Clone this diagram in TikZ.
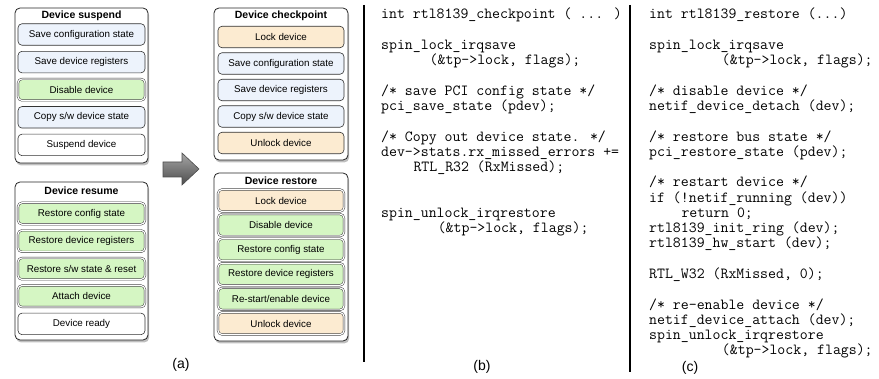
\documentclass[tikz,border=0pt]{standalone}
\usepackage{fontspec}
\setsansfont{Liberation Sans}
\usetikzlibrary{positioning, shadows}

\definecolor{stateblue}{HTML}{EDF3FC}
\definecolor{devgreen}{HTML}{D5F6C3}
\definecolor{lockpeach}{HTML}{FCEBD1}

\newcommand{\ind}[1]{\hspace*{\dimexpr 0.525em*#1\relax}}

\begin{document}
\begin{tikzpicture}[x=1pt, y=-1pt,
    every node/.style={inner sep=0pt, font=\sffamily},
    phase/.style={draw=black!85, line width=0.8pt, rounded corners=5pt, fill=white,
        drop shadow={shadow xshift=1.2pt, shadow yshift=-2.5pt, opacity=0.5}},
    phasetitle/.style={font=\sffamily\bfseries\fontsize{10.5}{12}\selectfont},
    item/.style={draw=black!80, line width=0.6pt, rounded corners=4pt, fill=white,
        minimum width=127pt, minimum height=21.5pt,
        font=\sffamily\fontsize{9.8}{11}\selectfont},
    dbl/.style={item, line width=0.45pt, double=white, double distance=1.2pt},
    code/.style={anchor=north west, align=left,
        font=\ttfamily\fontsize{15.4}{15.27}\selectfont},
    caption/.style={font=\sffamily\fontsize{14}{16}\selectfont},
    sepline/.style={line width=1.2pt},
    bigarrow/.style={draw=black!70, line width=0.6pt, top color=black!35, bottom color=black!70}]

    \useasboundingbox (0,0) rectangle (879,379);

    % (a) device suspend / resume
    \node[phase, minimum width=133pt, minimum height=155pt] (suspend) at (81.5,85.5) {};
    \node[phasetitle] (suspendT) at (81.5,16) {Device suspend};
    \node[item, fill=stateblue] (s1) at (81.5,34.5) {Save configuration state};
    \begin{scope}[node distance=27.6pt]
    \node[item, fill=stateblue] (s2) [below of = s1] {Save device registers};
    \node[dbl, fill=devgreen] (s3) [below of = s2] {Disable device};
    \node[item, fill=stateblue] (s4) [below of = s3] {Copy s/w device state};
    \node[item] (s5) [below of = s4] {Suspend device};
    \end{scope}

    \node[phase, minimum width=133pt, minimum height=158pt] (resume) at (81.5,261) {};
    \node[phasetitle] (resumeT) at (81.5,191) {Device resume};
    \node[dbl, fill=devgreen] (r1) at (81.5,213.5) {Restore config state};
    \begin{scope}[node distance=27.6pt]
    \node[dbl, fill=devgreen] (r2) [below of = r1] {Restore device registers};
    \node[dbl, fill=devgreen] (r3) [below of = r2] {Restore s/w state \& reset};
    \node[dbl, fill=devgreen] (r4) [below of = r3] {Attach device};
    \node[item] (r5) [below of = r4] {Device ready};
    \end{scope}

    \draw[bigarrow] (163,162) -- (182,162) -- (182,153) -- (199,169)
        -- (182,185) -- (182,177) -- (163,177) -- cycle;

    % checkpoint / restore
    \node[phase, minimum width=134pt, minimum height=152pt] (ckpt) at (281,84) {};
    \node[phasetitle] (ckptT) at (281,16) {Device checkpoint};
    \node[item, fill=lockpeach, minimum width=126pt] (c1) at (281,37) {Lock device};
    \begin{scope}[node distance=26.5pt]
    \node[item, fill=stateblue, minimum width=126pt] (c2) [below of = c1] {Save configuration state};
    \node[item, fill=stateblue, minimum width=126pt] (c3) [below of = c2] {Save device registers};
    \node[item, fill=stateblue, minimum width=126pt] (c4) [below of = c3] {Copy s/w device state};
    \node[item, fill=lockpeach, minimum width=126pt] (c5) [below of = c4] {Unlock device};
    \end{scope}

    \node[phase, minimum width=134pt, minimum height=168pt] (rest) at (281,257) {};
    \node[phasetitle] (restT) at (281,181) {Device restore};
    \node[dbl, fill=lockpeach, minimum width=126pt, minimum height=22pt] (d1) at (281,200.5) {Lock device};
    \begin{scope}[node distance=24.6pt]
    \node[dbl, fill=devgreen, minimum width=126pt, minimum height=22pt] (d2) [below of = d1] {Disable device};
    \node[dbl, fill=devgreen, minimum width=126pt, minimum height=22pt] (d3) [below of = d2] {Restore config state};
    \node[dbl, fill=devgreen, minimum width=126pt, minimum height=22pt] (d4) [below of = d3] {Restore device registers};
    \node[dbl, fill=devgreen, minimum width=126pt, minimum height=22pt] (d5) [below of = d4] {Re-start/enable device};
    \node[dbl, fill=lockpeach, minimum width=126pt, minimum height=22pt] (d6) [below of = d5] {Unlock device};
    \end{scope}

    \node[caption] (capA) at (181,365) {(a)};

    % separators
    \coordinate (sepBtop) at (364,5);
    \coordinate (sepBbot) at (364,362);
    \coordinate (sepCtop) at (630,5);
    \coordinate (sepCbot) at (630,372);
    \draw[sepline] (sepBtop) -- (sepBbot);
    \draw[sepline] (sepCtop) -- (sepCbot);

    % (b) checkpoint code
    \node[code] (ckptcode) at (381,8) {%
        int rtl8139\_checkpoint ( ... )\\[15.27pt]
        spin\_lock\_irqsave\\
        \ind{6}(\&tp->lock, flags);\\[15.27pt]
        /* save PCI config state */\\
        pci\_save\_state (pdev);\\[15.27pt]
        /* Copy out device state. */\\
        dev->stats.rx\_missed\_errors +=\\
        \ind{4}RTL\_R32 (RxMissed);\\[30.54pt]
        spin\_unlock\_irqrestore\\
        \ind{7}(\&tp->lock, flags);};
    \node[caption] (capB) at (482,367) {(b)};

    % (c) restore code
    \node[code] (restcode) at (649,8) {%
        int rtl8139\_restore (...)\\[15.27pt]
        spin\_lock\_irqsave\\
        \ind{9}(\&tp->lock, flags);\\[15.27pt]
        /* disable device */\\
        netif\_device\_detach (dev);\\[15.27pt]
        /* restore bus state */\\
        pci\_restore\_state (pdev);\\[15.27pt]
        /* restart device */\\
        if (!netif\_running (dev))\\
        \ind{4}return 0;\\
        rtl8139\_init\_ring (dev);\\
        rtl8139\_hw\_start (dev);\\[15.27pt]
        RTL\_W32 (RxMissed, 0);\\[15.27pt]
        /* re-enable device */\\
        netif\_device\_attach (dev);\\
        spin\_unlock\_irqrestore\\
        \ind{9}(\&tp->lock, flags);};
    \node[caption] (capC) at (690,368) {(c)};
\end{tikzpicture}
\end{document}
